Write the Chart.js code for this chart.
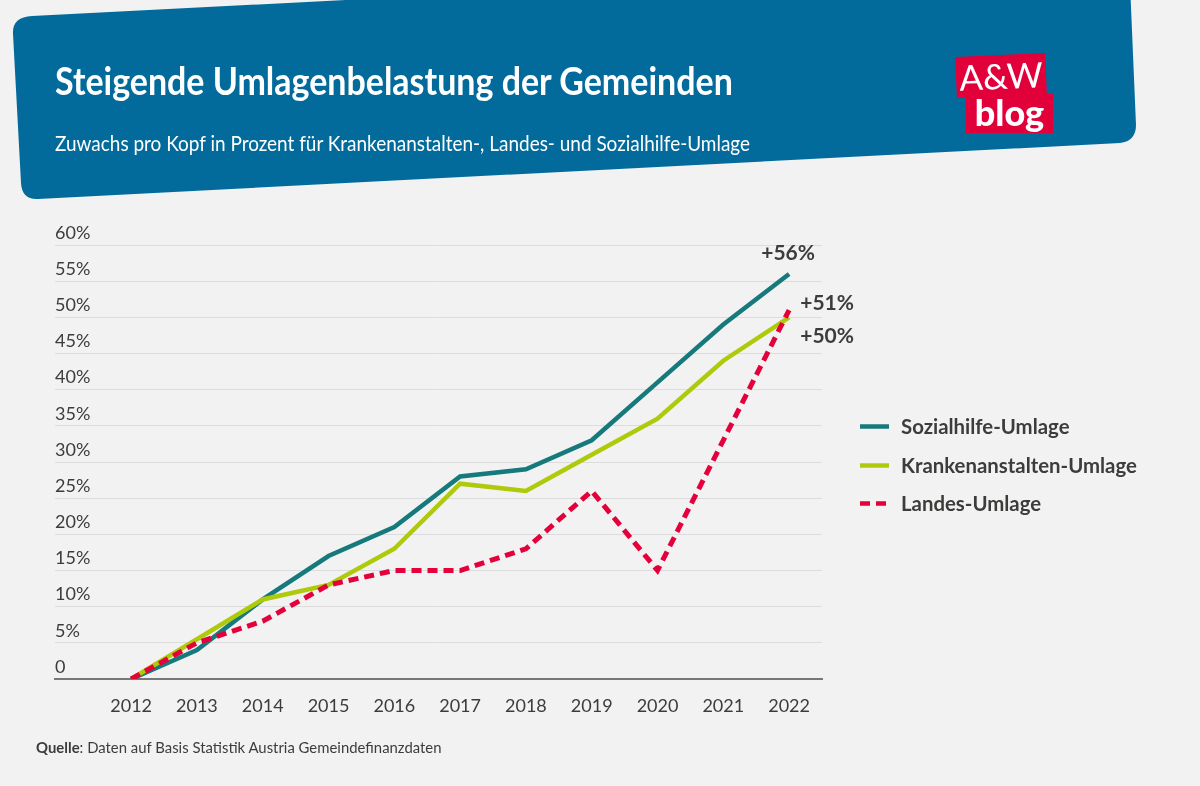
<!DOCTYPE html>
<html lang="de">
<head>
<meta charset="utf-8">
<title>Steigende Umlagenbelastung der Gemeinden</title>
<script src="https://cdn.jsdelivr.net/npm/chart.js@4"></script>
<style>
    html, body { margin: 0; padding: 0; background: #f2f2f2; }
    body { position: relative; width: 1200px; height: 786px; overflow: hidden; font-family: Lato, "Noto Sans", sans-serif; color: #3c3c3b; }
    #chart { position: absolute; left: 0; top: 0; }
    #banner { position: absolute; left: 0; top: 0; }
    .abs { position: absolute; white-space: nowrap; }
    #title { left: 55px; top: 57px; font-size: 39px; line-height: 46px; font-weight: 700; color: #fff; transform-origin: left top; transform: scaleX(0.871); }
    #subtitle { left: 55px; top: 129px; font-size: 22px; line-height: 28px; color: #fff; transform-origin: left top; transform: scaleX(0.862); }
    #source { left: 36px; top: 738px; font-size: 16px; line-height: 18px; transform-origin: left top; transform: scaleX(0.93); }
    .logo { background: #e2003b; color: #fff; text-align: center; }
    #logoTop { left: 956px; top: 55px; width: 90px; height: 41px; transform: rotate(-2.5deg); font-size: 35px; line-height: 41px; font-weight: 400; }
    #logoBottom { left: 966px; top: 94px; width: 87px; height: 39px; font-size: 36px; line-height: 37px; font-weight: 900; }
    .legend-row { position: absolute; left: 860px; height: 28px; }
    .legend-row svg { position: absolute; left: 0; top: 12px; }
    .legend-row span { position: absolute; left: 41px; top: 0; font-size: 21px; line-height: 28px; font-weight: 700; white-space: nowrap; transform-origin: left top; transform: scaleX(0.97); }
</style>
</head>
<body>
<svg id="banner" width="1200" height="210">
    <path fill="#036b9b" d="M32 16 L1129 -40 L1136 125 Q1136 141 1120 143 L38 199 Q22 200 21 183 L13 34 Q12 17 32 16 Z"/>
</svg>
<canvas id="chart" width="1200" height="786"></canvas>
<div class="abs" id="title">Steigende Umlagenbelastung der Gemeinden</div>
<div class="abs" id="subtitle">Zuwachs pro Kopf in Prozent für Krankenanstalten-, Landes- und Sozialhilfe-Umlage</div>
<div class="abs logo" id="logoTop">A&amp;W</div>
<div class="abs logo" id="logoBottom">blog</div>
<div id="legend"></div>
<div class="abs" id="source"><b>Quelle</b>: Daten auf Basis Statistik Austria Gemeindefinanzdaten</div>

<script>
const years = [2012, 2013, 2014, 2015, 2016, 2017, 2018, 2019, 2020, 2021, 2022];
const sozialhilfe = [0, 4, 11, 17, 21, 28, 29, 33, 41, 49, 56];
const krankenanstalten = [0, 5.5, 11, 13, 18, 27, 26, 31, 36, 44, 50];
const landes = [0, 5, 8, 13, 15, 15, 18, 26, 15, 33, 51];
const seriesNames = ['Sozialhilfe-Umlage', 'Krankenanstalten-Umlage', 'Landes-Umlage'];
const seriesColors = ['#16797b', '#afca0b', '#e4003a'];
const endLabels = ['+56%', '+50%', '+51%'];
const endOffsets = [[-1, -21], [38, 19], [38, -7]];

const textColor = '#3c3c3b';

function toPoints(values) {
    return values.map((v, i) => ({ x: years[i], y: v }));
}

// end of line labels, placed relative to the last point of each series
const endLabelPlugin = {
    id: 'endLabels',
    afterDatasetsDraw(chart) {
        const ctx = chart.ctx;
        ctx.save();
        ctx.font = '700 21px Lato';
        ctx.fillStyle = textColor;
        ctx.textAlign = 'center';
        ctx.textBaseline = 'middle';
        chart.data.datasets.forEach((ds, i) => {
            const points = chart.getDatasetMeta(i).data;
            const last = points[points.length - 1];
            ctx.fillText(endLabels[i], last.x + endOffsets[i][0], last.y + endOffsets[i][1]);
        });
        ctx.restore();
    }
};

new Chart(document.getElementById('chart'), {
    type: 'line',
    data: {
        datasets: [sozialhilfe, krankenanstalten, landes].map((values, i) => ({
            label: seriesNames[i],
            data: toPoints(values),
            borderColor: seriesColors[i],
            borderWidth: i === 2 ? 5 : 4.5,
            borderDash: i === 2 ? [10, 6] : [],
            pointRadius: 0,
            tension: 0,
            order: 3 - i
        }))
    },
    options: {
        responsive: false,
        animation: false,
        layout: { padding: { left: 55, right: 378, top: 245, bottom: 0 } },
        plugins: { legend: { display: false }, tooltip: { enabled: false } },
        scales: {
            x: {
                type: 'linear',
                min: 2010.843,
                max: 2022.5,
                afterBuildTicks(axis) {
                    axis.ticks = years.map(y => ({ value: y }));
                },
                afterFit(axis) {
                    axis.height = 107;
                },
                grid: { display: false },
                border: { color: '#77787a', width: 2 },
                ticks: {
                    color: textColor,
                    font: { family: 'Lato', size: 18 },
                    padding: 8,
                    maxRotation: 0,
                    autoSkip: false,
                    callback: v => String(v)
                }
            },
            y: {
                min: 0,
                max: 60,
                grid: { color: '#dcdcdc', lineWidth: 1, drawTicks: false },
                border: { display: false },
                ticks: {
                    stepSize: 5,
                    mirror: true,
                    padding: 0,
                    labelOffset: -12,
                    color: textColor,
                    font: { family: 'Lato', size: 18 },
                    callback: v => (v === 0 ? '0' : v + '%')
                }
            }
        }
    },
    plugins: [endLabelPlugin]
});

// legend sits outside the plot, built from the same names and colours
const legendEl = document.getElementById('legend');
const legendTops = [412, 451, 489];
seriesNames.forEach((name, i) => {
    const row = document.createElement('div');
    row.className = 'legend-row';
    row.style.top = legendTops[i] + 'px';
    const dash = i === 2 ? ' stroke-dasharray="10 6"' : '';
    row.innerHTML = `<svg width="30" height="5"><line x1="0" y1="2.5" x2="29" y2="2.5" stroke="${seriesColors[i]}" stroke-width="4.5"${dash}/></svg><span>${name}</span>`;
    legendEl.appendChild(row);
});
</script>
</body>
</html>
